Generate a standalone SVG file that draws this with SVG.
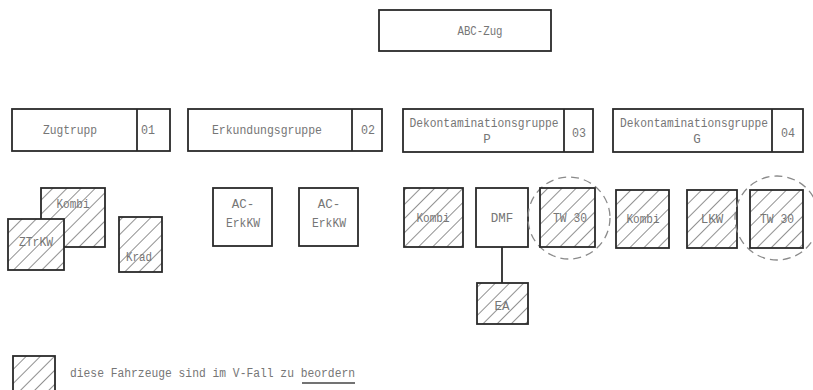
<svg xmlns="http://www.w3.org/2000/svg" width="813" height="390" viewBox="0 0 813 390">
<defs>
<pattern id="hatch" patternUnits="userSpaceOnUse" width="10" height="10" patternTransform="rotate(45)">
<rect width="10" height="10" fill="#ffffff"/>
<line x1="0" y1="0" x2="0" y2="10" stroke="#555" stroke-width="1.3"/>
</pattern>
</defs>
<style>
.box{fill:#fff;stroke:#2a2a2a;stroke-width:1.8}
.hb{fill:url(#hatch);stroke:#2a2a2a;stroke-width:1.8}
.div{stroke:#2a2a2a;stroke-width:1.8}
.t{font-family:"Liberation Mono","DejaVu Sans Mono",monospace;font-size:12.5px;fill:#767676;text-anchor:middle}
.tl{font-family:"Liberation Mono","DejaVu Sans Mono",monospace;font-size:12.5px;fill:#767676}
.circ{fill:none;stroke:#8a8a8a;stroke-width:1.3;stroke-dasharray:8 5}
.con{stroke:#2a2a2a;stroke-width:1.8;fill:none}
</style>
<rect width="813" height="390" fill="#fff"/>

<g id="abc-zug">
<rect class="box" x="379" y="10" width="172" height="41"/>
<text class="t" x="480" y="35" textLength="45" lengthAdjust="spacingAndGlyphs">ABC-Zug</text>
</g>

<g id="zugtrupp">
<rect class="box" x="12" y="109" width="158" height="42"/>
<line class="div" x1="137" y1="109" x2="137" y2="151"/>
<text class="t" x="70" y="134" textLength="54" lengthAdjust="spacingAndGlyphs">Zugtrupp</text>
<text class="t" x="148" y="134" textLength="14" lengthAdjust="spacingAndGlyphs">01</text>
</g>

<g id="erkundungsgruppe">
<rect class="box" x="188" y="109" width="194" height="42"/>
<line class="div" x1="352" y1="109" x2="352" y2="151"/>
<text class="t" x="267" y="134" textLength="110" lengthAdjust="spacingAndGlyphs">Erkundungsgruppe</text>
<text class="t" x="368" y="134" textLength="14" lengthAdjust="spacingAndGlyphs">02</text>
</g>

<g id="dekon-p">
<rect class="box" x="403" y="109" width="190" height="43"/>
<line class="div" x1="564" y1="109" x2="564" y2="152"/>
<text class="t" x="484" y="127" textLength="149" lengthAdjust="spacingAndGlyphs">Dekontaminationsgruppe</text>
<text class="t" x="487" y="143">P</text>
<text class="t" x="579" y="137" textLength="14" lengthAdjust="spacingAndGlyphs">03</text>
</g>

<g id="dekon-g">
<rect class="box" x="613" y="109" width="190" height="43"/>
<line class="div" x1="772" y1="109" x2="772" y2="152"/>
<text class="t" x="694" y="127" textLength="148" lengthAdjust="spacingAndGlyphs">Dekontaminationsgruppe</text>
<text class="t" x="697" y="143">G</text>
<text class="t" x="788" y="137" textLength="14" lengthAdjust="spacingAndGlyphs">04</text>
</g>

<g id="kombi-zt">
<rect class="hb" x="41" y="188" width="64" height="59"/>
<text class="t" x="73" y="208" textLength="33" lengthAdjust="spacingAndGlyphs">Kombi</text>
</g>
<g id="ztrkw">
<rect class="hb" x="8" y="219" width="56" height="51"/>
<text class="t" x="36" y="246" textLength="34" lengthAdjust="spacingAndGlyphs">ZTrKW</text>
</g>
<g id="krad">
<rect class="hb" x="119" y="217" width="43" height="55"/>
<text class="t" x="139" y="261" textLength="26" lengthAdjust="spacingAndGlyphs">Krad</text>
</g>

<g id="ac-erkkw-1">
<rect class="box" x="213" y="188" width="59" height="58"/>
<text class="t" x="243" y="208">AC-</text>
<text class="t" x="243" y="227" textLength="34" lengthAdjust="spacingAndGlyphs">ErkKW</text>
</g>
<g id="ac-erkkw-2">
<rect class="box" x="299" y="188" width="59" height="58"/>
<text class="t" x="329" y="208">AC-</text>
<text class="t" x="329" y="227" textLength="34" lengthAdjust="spacingAndGlyphs">ErkKW</text>
</g>

<g id="kombi-p">
<rect class="hb" x="404" y="188" width="59" height="59"/>
<text class="t" x="433" y="222" textLength="33" lengthAdjust="spacingAndGlyphs">Kombi</text>
</g>
<g id="dmf">
<rect class="box" x="476" y="188" width="52" height="59"/>
<text class="t" x="502" y="222">DMF</text>
</g>
<g id="tw30-p">
<circle class="circ" cx="569" cy="218" r="41"/>
<rect class="hb" x="540" y="188" width="55" height="59"/>
<text class="t" x="570" y="222" textLength="34" lengthAdjust="spacingAndGlyphs">TW 30</text>
</g>
<g id="ea">
<rect class="hb" x="477" y="283" width="51" height="41"/>
<text class="t" x="502" y="310">EA</text>
</g>

<g id="kombi-g">
<rect class="hb" x="616" y="190" width="53" height="58"/>
<text class="t" x="643" y="223" textLength="33" lengthAdjust="spacingAndGlyphs">Kombi</text>
</g>
<g id="lkw">
<rect class="hb" x="687" y="190" width="50" height="58"/>
<text class="t" x="712" y="223">LKW</text>
</g>
<g id="tw30-g">
<circle class="circ" cx="777" cy="218" r="42"/>
<rect class="hb" x="750" y="190" width="53" height="58"/>
<text class="t" x="777" y="223" textLength="34" lengthAdjust="spacingAndGlyphs">TW 30</text>
</g>

<g id="connectors">
<line class="con" x1="502" y1="247" x2="502" y2="283"/>
</g>

<g id="legend">
<rect class="hb" x="13" y="356" width="42" height="36"/>
<text class="tl" x="70" y="377" textLength="285" lengthAdjust="spacingAndGlyphs">diese Fahrzeuge sind im V-Fall zu beordern</text>
<line x1="302" y1="383" x2="355" y2="383" stroke="#444" stroke-width="1.3"/>
</g>
</svg>
